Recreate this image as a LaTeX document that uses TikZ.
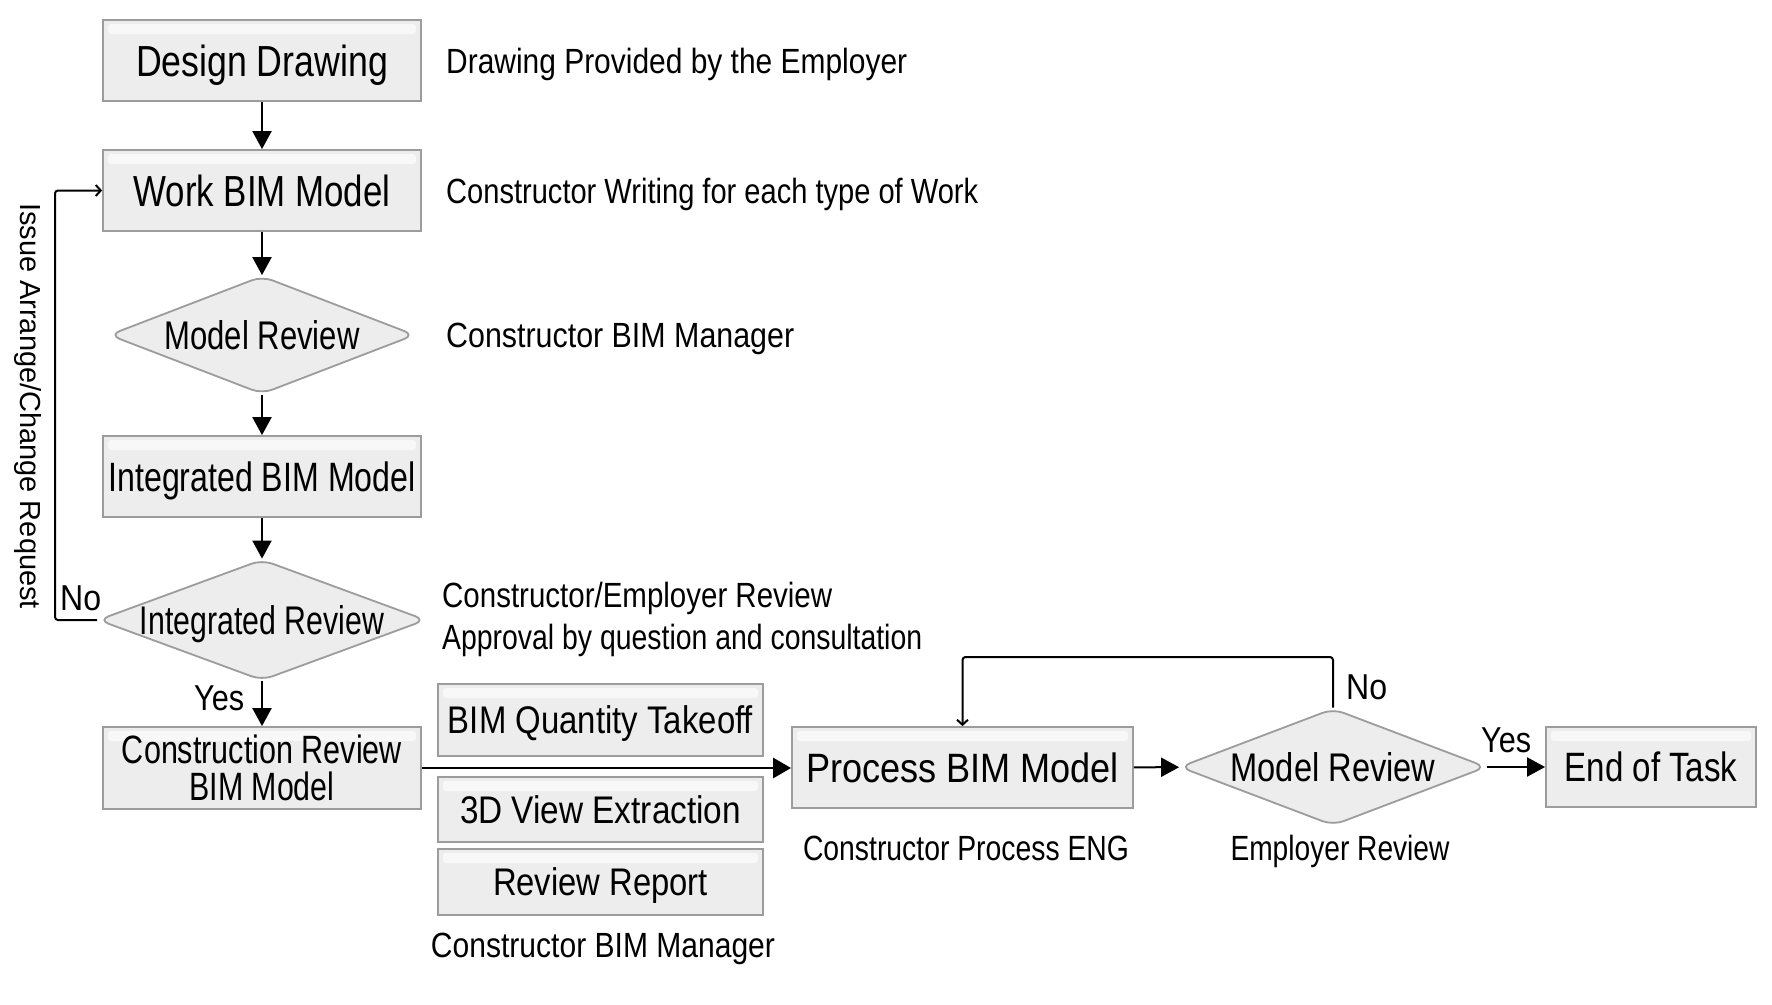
\documentclass[tikz,border=0pt]{standalone}
\usepackage{fontspec}
\setmainfont{Liberation Sans}
\usepackage{graphicx}
\usetikzlibrary{shapes.geometric,arrows.meta}
\definecolor{boxfill}{HTML}{EDEDED}
\definecolor{boxline}{HTML}{9C9C9C}
\newcommand{\tw}[2]{\resizebox{#1}{\height}{#2}}
\begin{document}
\begin{tikzpicture}[x=1pt,y=-1pt,
  boxbase/.style={draw=boxline, line width=1.8pt, fill=boxfill, inner sep=0pt,
    path picture={\fill[white,opacity=0.65,rounded corners=3pt]
      ([shift={(5pt,-4pt)}]path picture bounding box.north west) rectangle
      ([shift={(-5pt,-14pt)}]path picture bounding box.north east);}},
  box/.style={boxbase, font=\fontsize{41pt}{46pt}\selectfont, text height=29.5pt, text depth=0pt},
  bigbox/.style={boxbase, font=\fontsize{43.5pt}{48pt}\selectfont, text height=31pt, text depth=0pt},
  smallbox/.style={boxbase, font=\fontsize{38.5pt}{42pt}\selectfont, text height=27.5pt, text depth=0pt},
  dec/.style={shape=diamond, draw=boxline, line width=1.8pt, fill=boxfill, rounded corners=11pt,
    inner sep=0pt, font=\fontsize{40pt}{44pt}\selectfont, text height=28.5pt, text depth=0pt},
  lab/.style={inner sep=0pt, font=\fontsize{35pt}{38pt}\selectfont, text height=25pt, text depth=0pt},
  yn/.style={inner sep=0pt, font=\fontsize{36pt}{39pt}\selectfont, text height=26pt, text depth=0pt},
  flow/.style={line width=2pt, -{Triangle[length=18pt,width=19pt]}},
  mainflow/.style={line width=2.8pt, -{Triangle[length=18pt,width=20pt]}},
  fb/.style={line width=2pt, rounded corners=3pt, -{Straight Barb[length=5pt,width=11pt]}}
]
\fill[white] (0,0) rectangle (1772,1004);
\useasboundingbox (0,0) rectangle (1772,1004);

% left column
\node[bigbox, minimum width=318pt, minimum height=81pt] (dd) at (262,60.5) {\tw{252pt}{Design Drawing}};
\node[bigbox, minimum width=318pt, minimum height=81pt] (wbm) at (262,190.5) {\tw{257pt}{Work BIM Model}};
\node[dec, minimum width=306pt, minimum height=118pt, shape aspect=2.6] (mr1) at (262,335) {\tw{195pt}{Model Review}};
\node[box, minimum width=318pt, minimum height=81pt] (ibm) at (262,476.5) {\tw{307pt}{Integrated BIM Model}};
\node[dec, minimum width=328pt, minimum height=121pt, shape aspect=2.72] (ir) at (262,620) {\tw{244pt}{Integrated Review}};
\node[boxbase, minimum width=318pt, minimum height=82pt, align=center,
      font=\fontsize{39.5pt}{37pt}\selectfont] (cr) at (262,768)
      {\tw{280pt}{Construction Review}\\\tw{145pt}{BIM Model}};

% side labels
\node[lab, anchor=west] (l1) at (446,61) {\tw{461pt}{Drawing Provided by the Employer}};
\node[lab, anchor=west] (l2) at (446,191) {\tw{532pt}{Constructor Writing for each type of Work}};
\node[lab, anchor=west] (l3) at (446,335) {\tw{348pt}{Constructor BIM Manager}};
\node[lab, anchor=west] (l4) at (442,595) {\tw{390pt}{Constructor/Employer Review}};
\node[lab, anchor=west] (l5) at (442,637) {\tw{480pt}{Approval by question and consultation}};

% middle column
\node[smallbox, minimum width=325pt, minimum height=72pt] (bqt) at (600.5,720) {\tw{305pt}{BIM Quantity Takeoff}};
\node[smallbox, minimum width=325pt, minimum height=65pt] (tdv) at (600.5,809.5) {\tw{281pt}{3D View Extraction}};
\node[smallbox, minimum width=325pt, minimum height=66pt] (rr) at (600.5,882) {\tw{215pt}{Review Report}};
\node[lab] (l6) at (603,945) {\tw{344pt}{Constructor BIM Manager}};

% right part
\node[box, minimum width=341pt, minimum height=81pt] (pbm) at (962.5,767.5) {\tw{313pt}{Process BIM Model}};
\node[dec, minimum width=307pt, minimum height=117pt, shape aspect=2.63] (mr2) at (1333,767) {\tw{205pt}{Model Review}};
\node[box, minimum width=210pt, minimum height=80pt] (eot) at (1651,767) {\tw{173pt}{End of Task}};
\node[lab] (l7) at (966,848) {\tw{326pt}{Constructor Process ENG}};
\node[lab] (l8) at (1340,848) {\tw{219pt}{Employer Review}};

% yes / no
\node[yn, anchor=base west] (no1) at (60,610) {\tw{41pt}{No}};
\node[yn, anchor=base west] (yes1) at (194,710) {\tw{50pt}{Yes}};
\node[yn, anchor=base west] (no2) at (1346,699) {\tw{41pt}{No}};
\node[yn, anchor=base west] (yes2) at (1481,752) {\tw{50pt}{Yes}};

% vertical text
\node[inner sep=0pt, rotate=-90, font=\fontsize{29pt}{32pt}\selectfont, text height=21pt, text depth=0pt] (vt) at (31,406)
  {\tw{406pt}{Issue Arrange/Change Request}};

% connectors
\draw[flow] (dd) -- (wbm);
\draw[flow] (wbm) -- (mr1);
\draw[flow] (mr1) -- (ibm);
\draw[flow] (ibm) -- (ir);
\draw[flow] (ir) -- (cr);
\draw[mainflow] (cr.east) -- (cr.east -| pbm.west);
\draw[flow] (pbm) -- (mr2);
\draw[flow] (mr2) -- (eot);

\coordinate (lx) at (55,0);
\draw[fb] (ir.west) -- (ir.west -| lx) |- (wbm.west);
\coordinate (ry) at (0,657);
\draw[fb] (mr2.north) -- (mr2.north |- ry) -| (pbm.north);
\end{tikzpicture}
\end{document}
